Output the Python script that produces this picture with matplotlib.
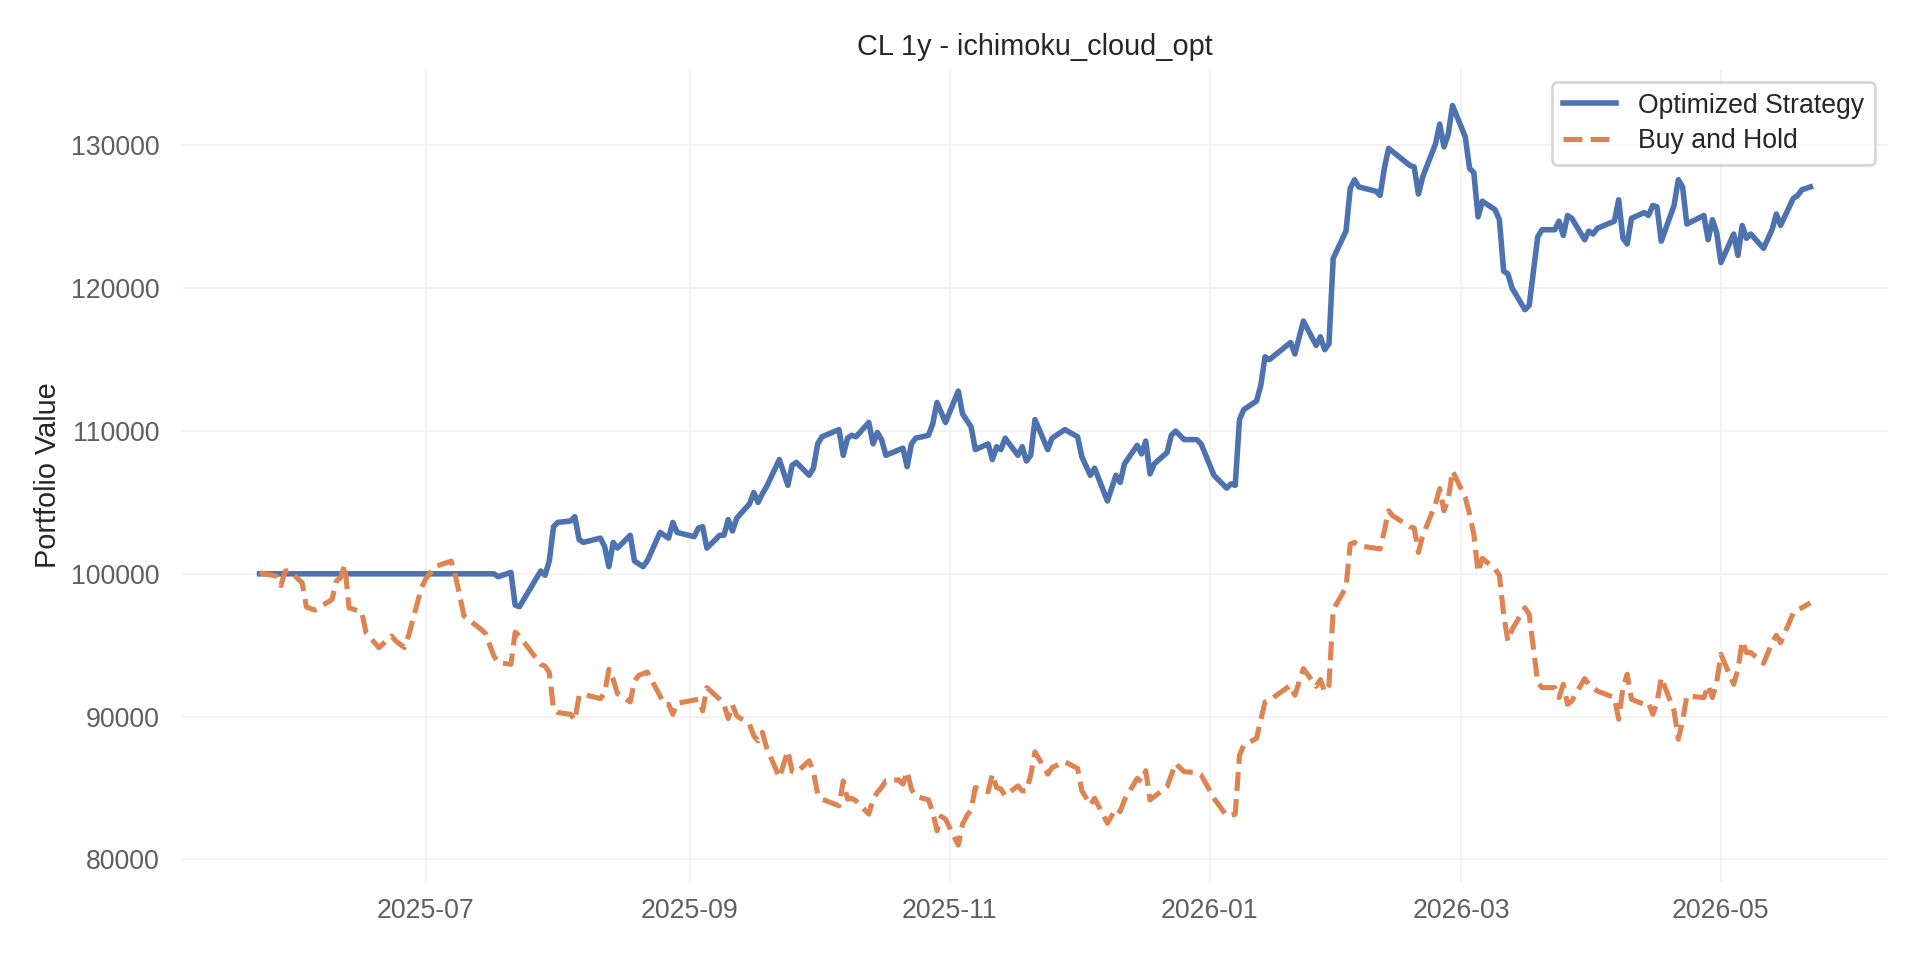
import matplotlib
matplotlib.use("Agg")
import matplotlib.pyplot as plt
import matplotlib.dates as mdates
import pandas as pd

plt.rcParams['font.family'] = ['Liberation Sans', 'DejaVu Sans']

title = "CL 1y - ichimoku_cloud_opt"
series_names = ["Optimized Strategy", "Buy and Hold"]

# strategy equity curve
strategy_dates = [
    "2025-05-23", "2025-07-17", "2025-07-18", "2025-07-21", "2025-07-22", "2025-07-23",
    "2025-07-28", "2025-07-29", "2025-07-30", "2025-07-31", "2025-08-01", "2025-08-04",
    "2025-08-05", "2025-08-06", "2025-08-07", "2025-08-11", "2025-08-12", "2025-08-13",
    "2025-08-14", "2025-08-15", "2025-08-18", "2025-08-19", "2025-08-21", "2025-08-22",
    "2025-08-25", "2025-08-27", "2025-08-28", "2025-08-29", "2025-09-02", "2025-09-03",
    "2025-09-04", "2025-09-05", "2025-09-08", "2025-09-09", "2025-09-10", "2025-09-11",
    "2025-09-12", "2025-09-15", "2025-09-16", "2025-09-17", "2025-09-18", "2025-09-19",
    "2025-09-22", "2025-09-24", "2025-09-25", "2025-09-26", "2025-09-29", "2025-09-30",
    "2025-10-01", "2025-10-02", "2025-10-06", "2025-10-07", "2025-10-08", "2025-10-09",
    "2025-10-10", "2025-10-13", "2025-10-14", "2025-10-15", "2025-10-16", "2025-10-17",
    "2025-10-21", "2025-10-22", "2025-10-23", "2025-10-24", "2025-10-27", "2025-10-28",
    "2025-10-29", "2025-10-31", "2025-11-03", "2025-11-04", "2025-11-06", "2025-11-07",
    "2025-11-10", "2025-11-11", "2025-11-12", "2025-11-13", "2025-11-14", "2025-11-17",
    "2025-11-18", "2025-11-19", "2025-11-20", "2025-11-21", "2025-11-24", "2025-11-25",
    "2025-11-28", "2025-12-01", "2025-12-02", "2025-12-04", "2025-12-05", "2025-12-08",
    "2025-12-10", "2025-12-11", "2025-12-12", "2025-12-15", "2025-12-16", "2025-12-17",
    "2025-12-18", "2025-12-19", "2025-12-22", "2025-12-23", "2025-12-24", "2025-12-26",
    "2025-12-29", "2025-12-30", "2026-01-02", "2026-01-05", "2026-01-06", "2026-01-07",
    "2026-01-08", "2026-01-09", "2026-01-12", "2026-01-13", "2026-01-14", "2026-01-15",
    "2026-01-20", "2026-01-21", "2026-01-23", "2026-01-26", "2026-01-27", "2026-01-28",
    "2026-01-29", "2026-01-30", "2026-02-02", "2026-02-03", "2026-02-04", "2026-02-05",
    "2026-02-09", "2026-02-10", "2026-02-11", "2026-02-12", "2026-02-17", "2026-02-18",
    "2026-02-19", "2026-02-20", "2026-02-23", "2026-02-24", "2026-02-25", "2026-02-26",
    "2026-02-27", "2026-03-02", "2026-03-03", "2026-03-04", "2026-03-05", "2026-03-06",
    "2026-03-09", "2026-03-10", "2026-03-11", "2026-03-12", "2026-03-13", "2026-03-16",
    "2026-03-17", "2026-03-19", "2026-03-20", "2026-03-23", "2026-03-24", "2026-03-25",
    "2026-03-26", "2026-03-27", "2026-03-30", "2026-03-31", "2026-04-01", "2026-04-02",
    "2026-04-06", "2026-04-07", "2026-04-08", "2026-04-09", "2026-04-10", "2026-04-13",
    "2026-04-14", "2026-04-15", "2026-04-16", "2026-04-17", "2026-04-20", "2026-04-21",
    "2026-04-22", "2026-04-23", "2026-04-27", "2026-04-28", "2026-04-29", "2026-04-30",
    "2026-05-01", "2026-05-04", "2026-05-05", "2026-05-06", "2026-05-07", "2026-05-08",
    "2026-05-11", "2026-05-13", "2026-05-14", "2026-05-15", "2026-05-18", "2026-05-19",
    "2026-05-20", "2026-05-22",
]
strategy_values = [
    100000, 100000, 99800, 100100, 97800, 97700,
    100200, 99900, 100900, 103300, 103600, 103700,
    104000, 102400, 102200, 102500, 101900, 100500,
    102200, 101800, 102700, 100900, 100500, 100900,
    102900, 102500, 103600, 102900, 102600, 103200,
    103300, 101800, 102700, 102700, 103800, 103000,
    103900, 104900, 105700, 105000, 105600, 106100,
    108000, 106200, 107600, 107800, 106900, 107400,
    109100, 109600, 110100, 108300, 109500, 109700,
    109600, 110600, 109100, 109900, 109400, 108300,
    108800, 107500, 109100, 109500, 109700, 110500,
    112000, 110600, 112800, 111200, 110300, 108700,
    109100, 108000, 108900, 108700, 109500, 108300,
    108900, 107900, 108300, 110800, 108700, 109500,
    110100, 109600, 108200, 106900, 107400, 105100,
    106900, 106400, 107700, 109000, 108400, 109300,
    107000, 107700, 108500, 109700, 110000, 109400,
    109400, 109100, 106900, 106000, 106300, 106200,
    110800, 111500, 112100, 113200, 115200, 115000,
    116200, 115400, 117700, 116000, 116600, 115700,
    116100, 122100, 124000, 127000, 127600, 127100,
    126800, 126500, 128400, 129800, 128600, 128500,
    126600, 127800, 130100, 131500, 129900, 130800,
    132800, 130600, 128400, 128100, 125000, 126100,
    125500, 124800, 121200, 121000, 120000, 118500,
    118800, 123600, 124100, 124100, 124700, 123700,
    125100, 124900, 123400, 124000, 123800, 124200,
    124700, 126200, 123500, 123100, 124900, 125300,
    125100, 125800, 125700, 123300, 125800, 127600,
    127100, 124500, 125100, 123400, 124800, 123900,
    121800, 123800, 122300, 124400, 123500, 123800,
    122800, 124100, 125200, 124400, 126300, 126500,
    126900, 127100,
]

# buy and hold curve
hold_dates = [
    "2025-05-23", "2025-05-27", "2025-05-28", "2025-05-29", "2025-05-30", "2025-06-02",
    "2025-06-03", "2025-06-05", "2025-06-09", "2025-06-10", "2025-06-11", "2025-06-12",
    "2025-06-13", "2025-06-16", "2025-06-17", "2025-06-20", "2025-06-23", "2025-06-24",
    "2025-06-26", "2025-06-27", "2025-06-30", "2025-07-01", "2025-07-02", "2025-07-03",
    "2025-07-07", "2025-07-08", "2025-07-10", "2025-07-14", "2025-07-15", "2025-07-17",
    "2025-07-18", "2025-07-21", "2025-07-22", "2025-07-23", "2025-07-28", "2025-07-29",
    "2025-07-30", "2025-07-31", "2025-08-01", "2025-08-04", "2025-08-05", "2025-08-06",
    "2025-08-07", "2025-08-11", "2025-08-12", "2025-08-13", "2025-08-14", "2025-08-15",
    "2025-08-18", "2025-08-19", "2025-08-20", "2025-08-22", "2025-08-25", "2025-08-26",
    "2025-08-27", "2025-08-28", "2025-08-29", "2025-09-03", "2025-09-04", "2025-09-05",
    "2025-09-08", "2025-09-09", "2025-09-10", "2025-09-11", "2025-09-12", "2025-09-15",
    "2025-09-16", "2025-09-17", "2025-09-18", "2025-09-19", "2025-09-22", "2025-09-24",
    "2025-09-25", "2025-09-26", "2025-09-29", "2025-09-30", "2025-10-01", "2025-10-02",
    "2025-10-06", "2025-10-07", "2025-10-08", "2025-10-09", "2025-10-10", "2025-10-13",
    "2025-10-14", "2025-10-15", "2025-10-16", "2025-10-17", "2025-10-20", "2025-10-21",
    "2025-10-22", "2025-10-23", "2025-10-24", "2025-10-27", "2025-10-28", "2025-10-29",
    "2025-10-30", "2025-10-31", "2025-11-03", "2025-11-04", "2025-11-05", "2025-11-06",
    "2025-11-07", "2025-11-10", "2025-11-11", "2025-11-12", "2025-11-13", "2025-11-14",
    "2025-11-17", "2025-11-18", "2025-11-19", "2025-11-20", "2025-11-21", "2025-11-24",
    "2025-11-25", "2025-11-28", "2025-12-01", "2025-12-02", "2025-12-04", "2025-12-05",
    "2025-12-08", "2025-12-10", "2025-12-11", "2025-12-12", "2025-12-15", "2025-12-16",
    "2025-12-17", "2025-12-18", "2025-12-22", "2025-12-24", "2025-12-26", "2025-12-29",
    "2025-12-30", "2026-01-02", "2026-01-05", "2026-01-07", "2026-01-08", "2026-01-09",
    "2026-01-12", "2026-01-14", "2026-01-15", "2026-01-20", "2026-01-21", "2026-01-23",
    "2026-01-26", "2026-01-27", "2026-01-28", "2026-01-29", "2026-01-30", "2026-02-02",
    "2026-02-03", "2026-02-04", "2026-02-05", "2026-02-10", "2026-02-11", "2026-02-12",
    "2026-02-13", "2026-02-17", "2026-02-18", "2026-02-19", "2026-02-20", "2026-02-23",
    "2026-02-24", "2026-02-25", "2026-02-26", "2026-02-27", "2026-03-02", "2026-03-03",
    "2026-03-04", "2026-03-05", "2026-03-06", "2026-03-09", "2026-03-10", "2026-03-11",
    "2026-03-12", "2026-03-13", "2026-03-16", "2026-03-17", "2026-03-19", "2026-03-20",
    "2026-03-23", "2026-03-24", "2026-03-25", "2026-03-26", "2026-03-27", "2026-03-30",
    "2026-03-31", "2026-04-02", "2026-04-06", "2026-04-07", "2026-04-08", "2026-04-09",
    "2026-04-10", "2026-04-13", "2026-04-14", "2026-04-15", "2026-04-16", "2026-04-17",
    "2026-04-20", "2026-04-21", "2026-04-22", "2026-04-23", "2026-04-27", "2026-04-28",
    "2026-04-29", "2026-04-30", "2026-05-01", "2026-05-04", "2026-05-05", "2026-05-06",
    "2026-05-07", "2026-05-08", "2026-05-11", "2026-05-13", "2026-05-14", "2026-05-15",
    "2026-05-18", "2026-05-19", "2026-05-20", "2026-05-22",
]
hold_values = [
    100070, 99840, 99180, 100190, 100230, 99370,
    97670, 97460, 98200, 99490, 99720, 100650,
    97620, 97320, 95870, 94830, 95640, 95290,
    94830, 95690, 99020, 99650, 100020, 100490,
    100890, 99840, 97040, 96110, 95830, 94240,
    93780, 93660, 95920, 95640, 93660, 93540,
    93080, 90510, 90280, 90160, 89740, 91450,
    91560, 91260, 91680, 93310, 92610, 91610,
    91030, 92490, 92890, 93120, 91450, 90860,
    90860, 90160, 90930, 91210, 90400, 92030,
    91210, 90860, 89860, 90820, 90050, 89460,
    88650, 88300, 88900, 87830, 85730, 87600,
    86150, 86080, 86900, 86130, 84570, 84220,
    83750, 85500, 84220, 84270, 84100, 83170,
    84220, 84690, 85040, 85500, 85570, 85270,
    86150, 84920, 84410, 84170, 83290, 82000,
    83010, 82820, 81000, 82470, 83050, 83470,
    85030, 84730, 85970, 85030, 84920, 84450,
    85150, 84800, 84800, 85900, 87530, 85970,
    86430, 86840, 86370, 84810, 83810, 84280,
    82530, 83580, 83340, 84160, 85670, 85440,
    86210, 84160, 85090, 86720, 86140, 86070,
    85910, 84280, 83040, 83160, 87300, 88000,
    88470, 91030, 91140, 92190, 91490, 93360,
    92120, 92590, 91730, 92190, 97480, 99060,
    102090, 102200, 101970, 101740, 103020, 104410,
    104060, 103300, 103200, 101500, 102670, 104880,
    105970, 104410, 105230, 107210, 105340, 104180,
    102780, 100110, 101080, 100340, 99900, 97160,
    95290, 96110, 97620, 97160, 92380, 92030,
    92030, 91330, 92260, 90860, 91100, 92660,
    92260, 91790, 91330, 89810, 92030, 92960,
    91210, 90860, 90980, 90160, 90980, 92730,
    90400, 88410, 89700, 91450, 91330, 92190,
    91330, 92380, 94360, 92260, 93310, 95290,
    94480, 94480, 93730, 95170, 95690, 95170,
    97270, 97510, 97620, 97970,
]

yticks = [80000, 90000, 100000, 110000, 120000, 130000]

fig, ax = plt.subplots(figsize=(12, 6), dpi=160)
fig.subplots_adjust(left=0.0948, right=0.9833, top=0.9286, bottom=0.0812)

ax.plot(pd.to_datetime(strategy_dates), strategy_values, color='#4C72B0', lw=2.5,
        label=series_names[0])
ax.plot(pd.to_datetime(hold_dates), hold_values, color='#DD8452', lw=2.3, ls='--',
        label=series_names[1])

ax.set_title(title, fontsize=13, color='#262626')
ax.set_ylabel("Portfolio Value", fontsize=13, color='#262626')
ax.set_yticks(yticks)
ax.yaxis.set_major_formatter(matplotlib.ticker.FuncFormatter(lambda v, p: f"{int(v)}"))

ax.xaxis.set_major_locator(mdates.MonthLocator(bymonth=[1, 3, 5, 7, 9, 11]))
ax.xaxis.set_major_formatter(mdates.DateFormatter('%Y-%m'))

ax.tick_params(axis='both', length=0, labelsize=12, labelcolor='#5f5f5f')
ax.tick_params(axis='x', pad=7)
ax.tick_params(axis='y', pad=10)

ax.grid(True, color='#f3f3f3', lw=0.9)
ax.set_axisbelow(True)
for s in ax.spines.values():
    s.set_visible(False)

leg = ax.legend(loc='upper right', fontsize=12, frameon=True, fancybox=True,
                labelspacing=0.35)
leg.get_frame().set_edgecolor('#cccccc')
leg.get_frame().set_linewidth(1.2)
for t in leg.get_texts():
    t.set_color('#262626')

fig.savefig("out.png", dpi=160)
